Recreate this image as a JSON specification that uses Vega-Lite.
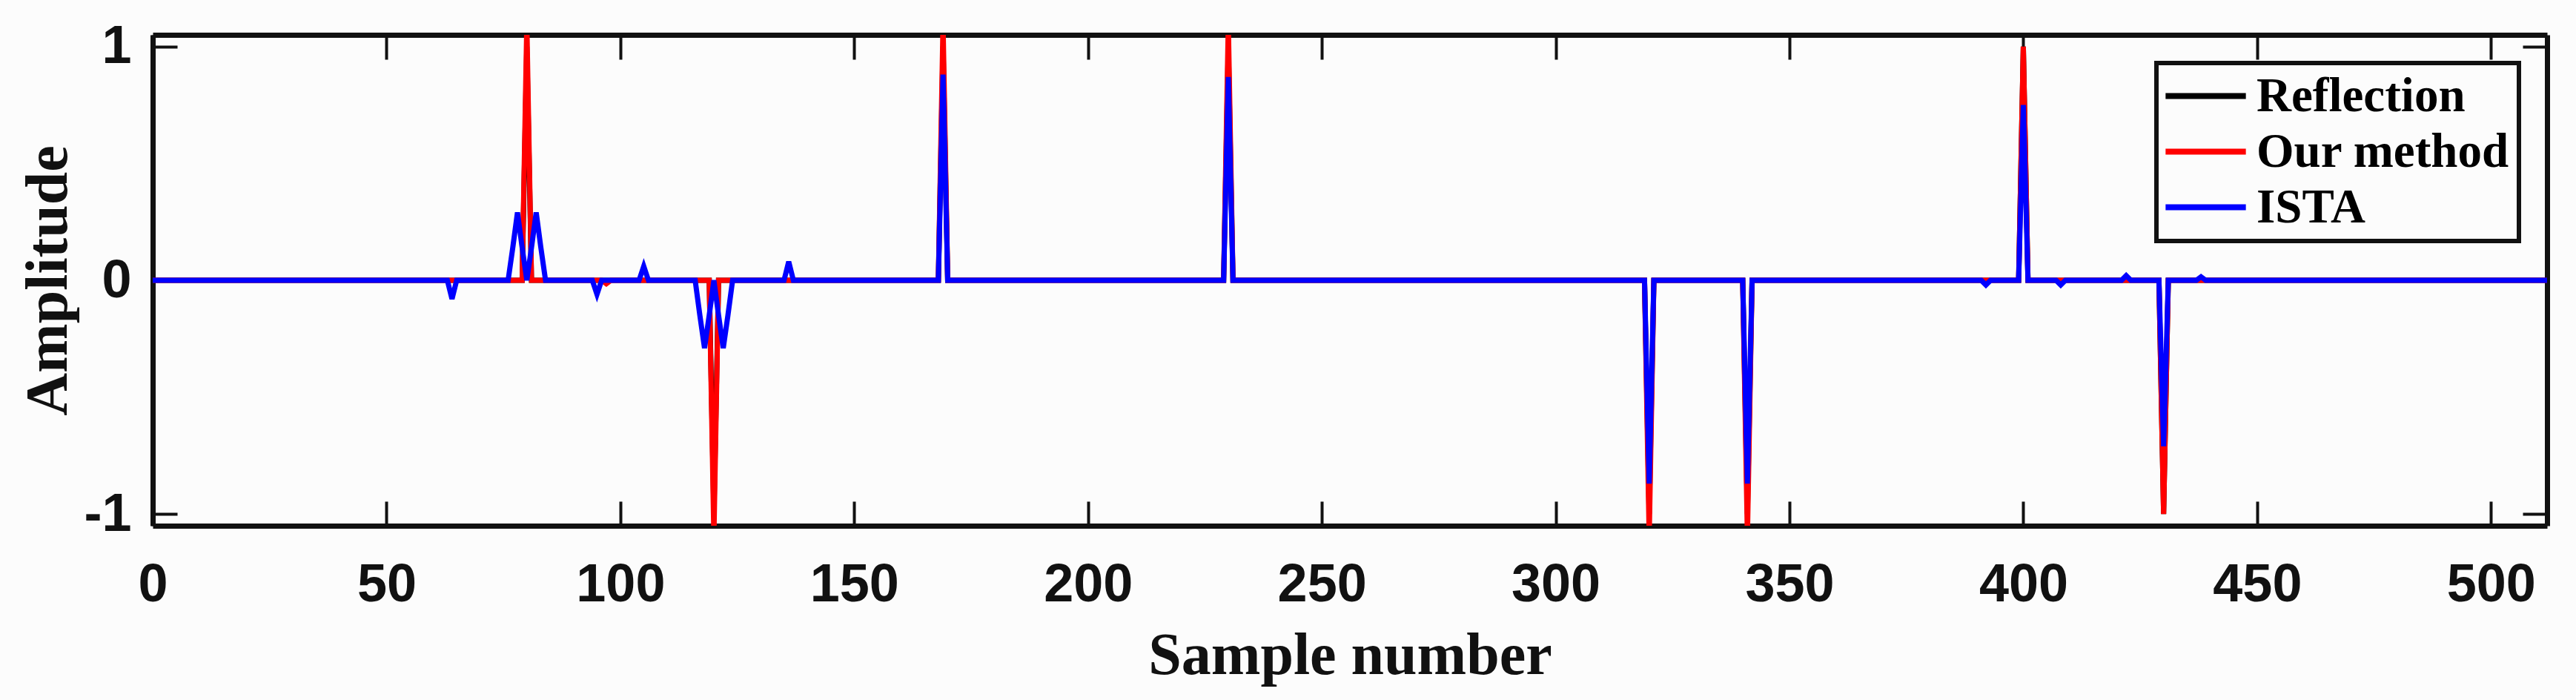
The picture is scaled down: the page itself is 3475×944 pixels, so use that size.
{
  "$schema": "https://vega.github.io/schema/vega-lite/v6.json",
  "width": 3230,
  "height": 662,
  "autosize": {"type": "none"},
  "padding": {"left": 206, "top": 47, "right": 39, "bottom": 235},
  "background": "#fcfcfc",
  "datasets": {
    "sig": [
      {"s": "Reflection", "n": 0, "a": 0},
      {"s": "Reflection", "n": 79, "a": 0},
      {"s": "Reflection", "n": 80, "a": 1},
      {"s": "Reflection", "n": 81, "a": 0},
      {"s": "Reflection", "n": 119, "a": 0},
      {"s": "Reflection", "n": 120, "a": -1},
      {"s": "Reflection", "n": 121, "a": 0},
      {"s": "Reflection", "n": 168, "a": 0},
      {"s": "Reflection", "n": 169, "a": 1},
      {"s": "Reflection", "n": 170, "a": 0},
      {"s": "Reflection", "n": 229, "a": 0},
      {"s": "Reflection", "n": 230, "a": 1},
      {"s": "Reflection", "n": 231, "a": 0},
      {"s": "Reflection", "n": 319, "a": 0},
      {"s": "Reflection", "n": 320, "a": -1},
      {"s": "Reflection", "n": 321, "a": 0},
      {"s": "Reflection", "n": 340, "a": 0},
      {"s": "Reflection", "n": 341, "a": -1},
      {"s": "Reflection", "n": 342, "a": 0},
      {"s": "Reflection", "n": 399, "a": 0},
      {"s": "Reflection", "n": 400, "a": 1},
      {"s": "Reflection", "n": 401, "a": 0},
      {"s": "Reflection", "n": 429, "a": 0},
      {"s": "Reflection", "n": 430, "a": -1},
      {"s": "Reflection", "n": 431, "a": 0},
      {"s": "Reflection", "n": 512, "a": 0},
      {"s": "Our method", "n": 0, "a": 0},
      {"s": "Our method", "n": 79, "a": 0},
      {"s": "Our method", "n": 80, "a": 1.1},
      {"s": "Our method", "n": 81, "a": 0},
      {"s": "Our method", "n": 96, "a": 0},
      {"s": "Our method", "n": 97, "a": -0.015},
      {"s": "Our method", "n": 98, "a": 0},
      {"s": "Our method", "n": 119, "a": 0},
      {"s": "Our method", "n": 120, "a": -1.1},
      {"s": "Our method", "n": 121, "a": 0},
      {"s": "Our method", "n": 168, "a": 0},
      {"s": "Our method", "n": 169, "a": 1.1},
      {"s": "Our method", "n": 170, "a": 0},
      {"s": "Our method", "n": 229, "a": 0},
      {"s": "Our method", "n": 230, "a": 1.1},
      {"s": "Our method", "n": 231, "a": 0},
      {"s": "Our method", "n": 319, "a": 0},
      {"s": "Our method", "n": 320, "a": -1.1},
      {"s": "Our method", "n": 321, "a": 0},
      {"s": "Our method", "n": 340, "a": 0},
      {"s": "Our method", "n": 341, "a": -1.1},
      {"s": "Our method", "n": 342, "a": 0},
      {"s": "Our method", "n": 399, "a": 0},
      {"s": "Our method", "n": 400, "a": 1.0},
      {"s": "Our method", "n": 401, "a": 0},
      {"s": "Our method", "n": 429, "a": 0},
      {"s": "Our method", "n": 430, "a": -1.0},
      {"s": "Our method", "n": 431, "a": 0},
      {"s": "Our method", "n": 512, "a": 0},
      {"s": "ISTA", "n": 0, "a": 0},
      {"s": "ISTA", "n": 63, "a": 0},
      {"s": "ISTA", "n": 64, "a": -0.08},
      {"s": "ISTA", "n": 65, "a": 0},
      {"s": "ISTA", "n": 76, "a": 0},
      {"s": "ISTA", "n": 77, "a": 0.14},
      {"s": "ISTA", "n": 78, "a": 0.29},
      {"s": "ISTA", "n": 79, "a": 0.14},
      {"s": "ISTA", "n": 80, "a": 0},
      {"s": "ISTA", "n": 81, "a": 0.14},
      {"s": "ISTA", "n": 82, "a": 0.29},
      {"s": "ISTA", "n": 83, "a": 0.14},
      {"s": "ISTA", "n": 84, "a": 0},
      {"s": "ISTA", "n": 94, "a": 0},
      {"s": "ISTA", "n": 95, "a": -0.06},
      {"s": "ISTA", "n": 96, "a": 0},
      {"s": "ISTA", "n": 104, "a": 0},
      {"s": "ISTA", "n": 105, "a": 0.06},
      {"s": "ISTA", "n": 106, "a": 0},
      {"s": "ISTA", "n": 116, "a": 0},
      {"s": "ISTA", "n": 117, "a": -0.15},
      {"s": "ISTA", "n": 118, "a": -0.29},
      {"s": "ISTA", "n": 119, "a": -0.15},
      {"s": "ISTA", "n": 120, "a": 0},
      {"s": "ISTA", "n": 121, "a": -0.15},
      {"s": "ISTA", "n": 122, "a": -0.29},
      {"s": "ISTA", "n": 123, "a": -0.15},
      {"s": "ISTA", "n": 124, "a": 0},
      {"s": "ISTA", "n": 135, "a": 0},
      {"s": "ISTA", "n": 136, "a": 0.08},
      {"s": "ISTA", "n": 137, "a": 0},
      {"s": "ISTA", "n": 168, "a": 0},
      {"s": "ISTA", "n": 169, "a": 0.88},
      {"s": "ISTA", "n": 170, "a": 0},
      {"s": "ISTA", "n": 229, "a": 0},
      {"s": "ISTA", "n": 230, "a": 0.87},
      {"s": "ISTA", "n": 231, "a": 0},
      {"s": "ISTA", "n": 319, "a": 0},
      {"s": "ISTA", "n": 320, "a": -0.87},
      {"s": "ISTA", "n": 321, "a": 0},
      {"s": "ISTA", "n": 340, "a": 0},
      {"s": "ISTA", "n": 341, "a": -0.87},
      {"s": "ISTA", "n": 342, "a": 0},
      {"s": "ISTA", "n": 391, "a": 0},
      {"s": "ISTA", "n": 392, "a": -0.02},
      {"s": "ISTA", "n": 393, "a": 0},
      {"s": "ISTA", "n": 399, "a": 0},
      {"s": "ISTA", "n": 400, "a": 0.75},
      {"s": "ISTA", "n": 401, "a": 0},
      {"s": "ISTA", "n": 407, "a": 0},
      {"s": "ISTA", "n": 408, "a": -0.02},
      {"s": "ISTA", "n": 409, "a": 0},
      {"s": "ISTA", "n": 421, "a": 0},
      {"s": "ISTA", "n": 422, "a": 0.02},
      {"s": "ISTA", "n": 423, "a": 0},
      {"s": "ISTA", "n": 429, "a": 0},
      {"s": "ISTA", "n": 430, "a": -0.71},
      {"s": "ISTA", "n": 431, "a": 0},
      {"s": "ISTA", "n": 437, "a": 0},
      {"s": "ISTA", "n": 438, "a": 0.015},
      {"s": "ISTA", "n": 439, "a": 0},
      {"s": "ISTA", "n": 512, "a": 0}
    ]
  },
  "data": {"name": "sig"},
  "layer": [
    {
      "transform": [{"filter": "datum.s === 'Reflection'"}],
      "mark": {"type": "line", "strokeWidth": 7, "clip": true},
      "encoding": {
        "x": {
          "field": "n", "type": "quantitative",
          "scale": {"domain": [0, 512], "nice": false, "zero": false},
          "axis": {
            "orient": "bottom",
            "values": [0, 50, 100, 150, 200, 250, 300, 350, 400, 450, 500],
            "format": "d",
            "tickSize": -33,
            "labelFont": "Liberation Sans", "labelFontWeight": "bold", "labelFontSize": 72,
            "labelColor": "#111111", "labelPadding": 134, "labelBaseline": "alphabetic",
            "labelFlush": false, "labelOverlap": false,
            "title": "Sample number",
            "titleFont": "Liberation Serif", "titleFontWeight": "bold", "titleFontSize": 80,
            "titleColor": "#111111", "titleBaseline": "alphabetic", "titleY": 199, "titleX": 1615
          }
        },
        "y": {
          "field": "a", "type": "quantitative",
          "scale": {"domain": [-1.05, 1.05], "nice": false, "zero": false},
          "axis": {
            "orient": "left",
            "values": [-1, 0, 1],
            "tickSize": -33,
            "labelFont": "Liberation Sans", "labelFontWeight": "bold", "labelFontSize": 72,
            "labelColor": "#111111", "labelPadding": 62, "labelAlign": "right", "labelBaseline": "middle",
            "labelExpr": "datum.value < 0 ? '-' + abs(round(datum.value)) : '' + round(datum.value)",
            "labelFlush": false, "labelOverlap": false,
            "title": "Amplitude",
            "titleFont": "Liberation Serif", "titleFontWeight": "bold", "titleFontSize": 80,
            "titleColor": "#111111", "titleAngle": 270, "titleBaseline": "alphabetic",
            "titleAlign": "center", "titleX": -117, "titleY": 331
          }
        },
        "color": {
          "field": "s", "type": "nominal",
          "scale": {"domain": ["Reflection", "Our method", "ISTA"], "range": ["#000000", "#ff0000", "#0000ff"]},
          "legend": {
            "orient": "none", "legendX": 2703, "legendY": 38,
            "title": null, "direction": "vertical",
            "padding": 12, "rowPadding": 9,
            "strokeColor": "#111111", "fillColor": "#fcfcfc",
            "labelFont": "Liberation Serif", "labelFontWeight": "bold", "labelFontSize": 65,
            "labelColor": "#000000", "labelLimit": 1000,
            "symbolType": "M-1.9,0H1.9", "symbolSize": 3249, "symbolStrokeWidth": 8,
            "symbolOffset": 22, "labelOffset": 36
          }
        }
      }
    },
    {
      "transform": [{"filter": "datum.s === 'Our method'"}],
      "mark": {"type": "line", "strokeWidth": 7, "clip": true},
      "encoding": {
        "x": {
          "field": "n", "type": "quantitative",
          "axis": {
            "orient": "top",
            "values": [0, 50, 100, 150, 200, 250, 300, 350, 400, 450, 500],
            "tickSize": -33, "labels": false, "title": null
          }
        },
        "y": {
          "field": "a", "type": "quantitative",
          "axis": {
            "orient": "right",
            "values": [-1, 0, 1],
            "tickSize": -33, "labels": false, "title": null
          }
        },
        "color": {"field": "s", "type": "nominal"}
      }
    },
    {
      "transform": [{"filter": "datum.s === 'ISTA'"}],
      "mark": {"type": "line", "strokeWidth": 7, "clip": true},
      "encoding": {
        "x": {"field": "n", "type": "quantitative", "axis": null},
        "y": {"field": "a", "type": "quantitative", "axis": null},
        "color": {"field": "s", "type": "nominal"}
      }
    }
  ],
  "resolve": {"axis": {"x": "independent", "y": "independent"}},
  "config": {
    "view": {"stroke": null},
    "axis": {
      "grid": false,
      "domainColor": "#111111", "domainWidth": 7,
      "tickColor": "#111111", "tickWidth": 4,
      "zindex": 1
    },
    "legend": {"strokeWidth": 6}
  }
}
